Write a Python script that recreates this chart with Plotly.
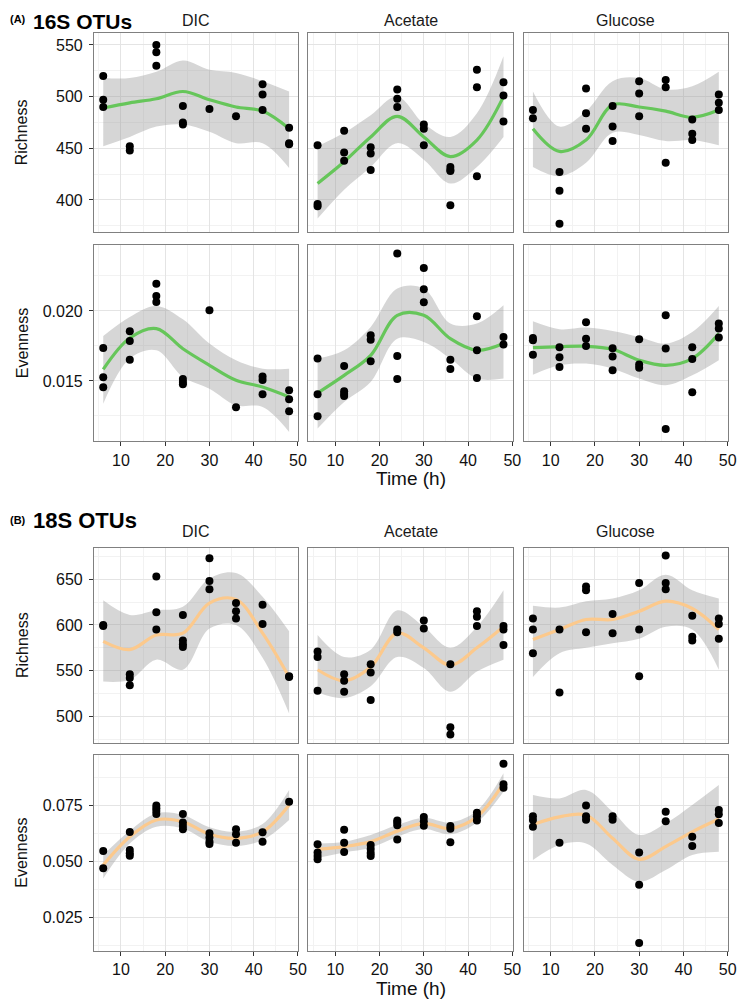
import plotly.graph_objects as go

# ---------------- data ----------------
fit_t = [6, 12, 18, 24, 30, 36, 42, 48]

# (A) 16S OTUs - Richness
a_rich_dic_t = [6, 6, 6, 12, 12, 18, 18, 18, 24, 24, 24, 30, 36, 42, 42, 42, 48, 48, 48]
a_rich_dic_v = [520, 497, 490, 452, 448, 550, 543, 530, 491, 475, 473, 488, 481, 512, 502, 487, 470, 455, 454]
a_rich_dic_fit = [489, 494, 498, 505, 497, 490, 486, 469]
a_rich_dic_up = [518, 518, 524, 535, 526, 523, 515, 505]
a_rich_dic_lo = [452, 461, 471, 473, 466, 455, 455, 431]

a_rich_ace_t = [6, 6, 6, 12, 12, 12, 18, 18, 18, 24, 24, 24, 30, 30, 30, 36, 36, 36, 36, 42, 42, 42, 48, 48, 48]
a_rich_ace_v = [453, 396, 394, 467, 446, 438, 451, 445, 429, 507, 498, 490, 473, 469, 453, 432, 429, 428, 395,
                526, 509, 423, 514, 501, 476]
a_rich_ace_fit = [416, 437, 461, 481, 461, 442, 458, 500]
a_rich_ace_up = [452, 465, 482, 500, 474, 461, 484, 539]
a_rich_ace_lo = [382, 410, 432, 455, 439, 416, 432, 461]

a_rich_glu_t = [6, 6, 12, 12, 12, 18, 18, 18, 24, 24, 24, 30, 30, 30, 36, 36, 36, 42, 42, 42, 48, 48, 48]
a_rich_glu_v = [487, 479, 427, 409, 377, 508, 484, 469, 491, 471, 457, 515, 503, 481, 516, 509, 436, 478, 464, 458,
                502, 494, 487]
a_rich_glu_fit = [469, 447, 458, 492, 490, 486, 480, 487]
a_rich_glu_up = [505, 471, 486, 515, 518, 507, 510, 524]
a_rich_glu_lo = [432, 423, 436, 465, 463, 457, 458, 453]

# (A) 16S OTUs - Evenness
a_even_dic_t = [6, 6, 6, 12, 12, 12, 18, 18, 18, 24, 24, 24, 30, 36, 42, 42, 42, 48, 48, 48]
a_even_dic_v = [0.01736, 0.01526, 0.01455, 0.01855, 0.01786, 0.01652, 0.02195, 0.02107, 0.02064, 0.01514,
                0.01493, 0.01476, 0.02005, 0.01312, 0.01531, 0.01507, 0.01405, 0.01433, 0.01369, 0.01283]
a_even_dic_fit = [0.01583, 0.01807, 0.01874, 0.0173, 0.01612, 0.01505, 0.01457, 0.01386]
a_even_dic_up = [0.01821, 0.01957, 0.02036, 0.0194, 0.01767, 0.01648, 0.01588, 0.01588]
a_even_dic_lo = [0.01338, 0.0166, 0.01719, 0.01529, 0.01445, 0.01326, 0.01314, 0.01136]

a_even_ace_t = [6, 6, 6, 12, 12, 12, 12, 18, 18, 18, 24, 24, 24, 30, 30, 30, 36, 36, 42, 42, 42, 48, 48]
a_even_ace_v = [0.0166, 0.01405, 0.01248, 0.01607, 0.01426, 0.01407, 0.01393, 0.01826, 0.01795, 0.0164,
                0.0241, 0.01679, 0.01514, 0.02307, 0.02155, 0.02062, 0.01652, 0.01586, 0.01962, 0.01719,
                0.01521, 0.01814, 0.0176]
a_even_ace_fit = [0.01414, 0.0154, 0.01683, 0.01969, 0.01969, 0.01802, 0.01719, 0.01767]
a_even_ace_up = [0.0166, 0.01719, 0.01886, 0.0216, 0.0216, 0.0191, 0.0191, 0.0204]
a_even_ace_lo = [0.0116, 0.0135, 0.01493, 0.01802, 0.01779, 0.0166, 0.01517, 0.01517]

a_even_glu_t = [6, 6, 6, 12, 12, 12, 18, 18, 18, 24, 24, 24, 30, 30, 30, 36, 36, 36, 42, 42, 42, 48, 48, 48]
a_even_glu_v = [0.01807, 0.0179, 0.01688, 0.0174, 0.01669, 0.016, 0.01919, 0.01802, 0.0175, 0.01733, 0.01674,
                0.01576, 0.01798, 0.01617, 0.01595, 0.01969, 0.01731, 0.01157, 0.0174, 0.01657, 0.01419,
                0.0191, 0.01874, 0.0181]
a_even_glu_fit = [0.01738, 0.01745, 0.01748, 0.01726, 0.01648, 0.01612, 0.0166, 0.01838]
a_even_glu_up = [0.01926, 0.0187, 0.01881, 0.01857, 0.01814, 0.01767, 0.0185, 0.02036]
a_even_glu_lo = [0.01545, 0.01612, 0.01624, 0.01588, 0.01517, 0.01469, 0.0154, 0.01648]

# (B) 18S OTUs - Richness
b_rich_dic_t = [6, 6, 12, 12, 12, 18, 18, 18, 24, 24, 24, 24, 30, 30, 30, 36, 36, 36, 42, 42, 48, 48]
b_rich_dic_v = [600, 599, 546, 542, 534, 653, 614, 595, 611, 583, 579, 576, 673, 648, 639, 624, 615, 607,
                622, 601, 544, 543]
b_rich_dic_fit = [582, 573, 589, 591, 624, 628, 591, 543]
b_rich_dic_up = [627, 611, 616, 620, 651, 657, 631, 593]
b_rich_dic_lo = [538, 540, 562, 551, 596, 600, 564, 503]

b_rich_ace_t = [6, 6, 6, 12, 12, 12, 18, 18, 18, 24, 24, 30, 30, 36, 36, 36, 42, 42, 42, 48, 48, 48]
b_rich_ace_v = [571, 565, 528, 546, 539, 527, 557, 548, 518, 595, 592, 605, 596, 557, 488, 480, 615, 609, 599,
                599, 595, 578]
b_rich_ace_fit = [551, 539, 554, 591, 575, 556, 575, 598]
b_rich_ace_up = [589, 565, 573, 616, 598, 575, 598, 638]
b_rich_ace_lo = [526, 520, 533, 565, 553, 527, 549, 562]

b_rich_glu_t = [6, 6, 6, 12, 12, 18, 18, 18, 24, 24, 30, 30, 30, 36, 36, 36, 42, 42, 42, 48, 48, 48]
b_rich_glu_v = [607, 595, 569, 595, 526, 642, 638, 592, 612, 591, 646, 595, 544, 676, 646, 639, 610, 587, 583,
                607, 601, 585]
b_rich_glu_fit = [584, 595, 606, 606, 615, 626, 618, 595]
b_rich_glu_up = [621, 619, 626, 629, 638, 655, 638, 629]
b_rich_glu_lo = [543, 569, 575, 580, 585, 598, 595, 551]

# (B) 18S OTUs - Evenness
b_even_dic_t = [6, 6, 12, 12, 12, 12, 18, 18, 18, 18, 24, 24, 24, 24, 30, 30, 30, 30, 36, 36, 36, 42, 42, 48]
b_even_dic_v = [0.0546, 0.0469, 0.0631, 0.0551, 0.0536, 0.0525, 0.0750, 0.0737, 0.0725, 0.0711, 0.0711,
                0.0674, 0.0658, 0.0643, 0.0625, 0.0607, 0.0588, 0.0577, 0.0643, 0.0621, 0.0583, 0.0630,
                0.0588, 0.0766]
b_even_dic_fit = [0.0484, 0.0610, 0.0685, 0.0677, 0.0621, 0.0603, 0.0632, 0.0752]
b_even_dic_up = [0.0528, 0.0637, 0.0714, 0.0707, 0.0652, 0.0632, 0.0667, 0.0819]
b_even_dic_lo = [0.0424, 0.0580, 0.0655, 0.0647, 0.0588, 0.0569, 0.0595, 0.0685]

b_even_ace_t = [6, 6, 6, 6, 12, 12, 12, 18, 18, 18, 18, 24, 24, 24, 24, 30, 30, 30, 36, 36, 36, 42, 42, 42,
                48, 48, 48]
b_even_ace_v = [0.0576, 0.0540, 0.0524, 0.0509, 0.0641, 0.0583, 0.0542, 0.0573, 0.0555, 0.0537, 0.0524,
                0.0683, 0.0673, 0.0661, 0.0598, 0.0698, 0.0679, 0.0659, 0.0658, 0.0646, 0.0585, 0.0717,
                0.0702, 0.0683, 0.0936, 0.0844, 0.0829]
b_even_ace_fit = [0.0554, 0.0566, 0.0588, 0.0635, 0.0670, 0.0647, 0.0699, 0.0848]
b_even_ace_up = [0.0580, 0.0588, 0.0618, 0.0662, 0.0695, 0.0674, 0.0726, 0.0893]
b_even_ace_lo = [0.0516, 0.0540, 0.0561, 0.0610, 0.0644, 0.0621, 0.0674, 0.0811]

b_even_glu_t = [6, 6, 6, 12, 18, 18, 18, 24, 24, 30, 30, 30, 36, 36, 42, 42, 48, 48, 48]
b_even_glu_v = [0.0702, 0.0685, 0.0655, 0.0583, 0.0750, 0.0701, 0.0686, 0.0701, 0.0686, 0.0540, 0.0396,
                0.0135, 0.0722, 0.0679, 0.0610, 0.0569, 0.0729, 0.0710, 0.0671]
b_even_glu_fit = [0.0665, 0.0699, 0.0707, 0.0603, 0.0509, 0.0566, 0.0632, 0.0689]
b_even_glu_up = [0.0796, 0.0781, 0.0819, 0.0722, 0.0618, 0.0670, 0.0752, 0.0841]
b_even_glu_lo = [0.0506, 0.0573, 0.0580, 0.0484, 0.0409, 0.0461, 0.0528, 0.0543]

substrates = ["DIC", "Acetate", "Glucose"]
x_ticks = [10, 20, 30, 40, 50]
rich_a_ticks = [400, 450, 500, 550]
even_a_ticks = [0.015, 0.020]
even_a_labels = ["0.015", "0.020"]
rich_b_ticks = [500, 550, 600, 650]
even_b_ticks = [0.025, 0.050, 0.075]
even_b_labels = ["0.025", "0.050", "0.075"]

# ---------------- layout geometry (page pixels) ----------------
# the page body has an 8px margin, so the figure is made 8px smaller and every
# page position is shifted by that offset
OFF = 8
W, H = 746 - OFF, 1003 - OFF
COLS = [(95, 302), (312, 519), (530, 737)]
ROWS = [(33.3, 231.7), (245.3, 441.3), (547.5, 743), (755, 950.7)]
GREEN = "#66c65a"
ORANGE = "#fcc98c"
FONT = "Liberation Sans, Arial, sans-serif"

rows = [
    dict(panels=[(a_rich_dic_t, a_rich_dic_v, a_rich_dic_fit, a_rich_dic_up, a_rich_dic_lo),
                 (a_rich_ace_t, a_rich_ace_v, a_rich_ace_fit, a_rich_ace_up, a_rich_ace_lo),
                 (a_rich_glu_t, a_rich_glu_v, a_rich_glu_fit, a_rich_glu_up, a_rich_glu_lo)],
         color=GREEN, yrange=[369.3, 561.3], ticks=rich_a_ticks, labels=[str(v) for v in rich_a_ticks],
         minor=[375, 425, 475, 525], title="Richness", bottom=False),
    dict(panels=[(a_even_dic_t, a_even_dic_v, a_even_dic_fit, a_even_dic_up, a_even_dic_lo),
                 (a_even_ace_t, a_even_ace_v, a_even_ace_fit, a_even_ace_up, a_even_ace_lo),
                 (a_even_glu_t, a_even_glu_v, a_even_glu_fit, a_even_glu_up, a_even_glu_lo)],
         color=GREEN, yrange=[0.01069, 0.02469], ticks=even_a_ticks, labels=even_a_labels,
         minor=[0.0125, 0.0175, 0.0225], title="Evenness", bottom=True),
    dict(panels=[(b_rich_dic_t, b_rich_dic_v, b_rich_dic_fit, b_rich_dic_up, b_rich_dic_lo),
                 (b_rich_ace_t, b_rich_ace_v, b_rich_ace_fit, b_rich_ace_up, b_rich_ace_lo),
                 (b_rich_glu_t, b_rich_glu_v, b_rich_glu_fit, b_rich_glu_up, b_rich_glu_lo)],
         color=ORANGE, yrange=[470.8, 684.8], ticks=rich_b_ticks, labels=[str(v) for v in rich_b_ticks],
         minor=[475, 525, 575, 625, 675], title="Richness", bottom=False),
    dict(panels=[(b_even_dic_t, b_even_dic_v, b_even_dic_fit, b_even_dic_up, b_even_dic_lo),
                 (b_even_ace_t, b_even_ace_v, b_even_ace_fit, b_even_ace_up, b_even_ace_lo),
                 (b_even_glu_t, b_even_glu_v, b_even_glu_fit, b_even_glu_up, b_even_glu_lo)],
         color=ORANGE, yrange=[0.0101, 0.0975], ticks=even_b_ticks, labels=even_b_labels,
         minor=[0.0125, 0.0375, 0.0625, 0.0875], title="Evenness", bottom=True),
]


def px_x(px):
    return (px - OFF) / W


def px_y(py):
    return 1 - (py - OFF) / H


fig = go.Figure()
layout = {}
annotations = []

k = 0
for r, row in enumerate(rows):
    y0, y1 = ROWS[r]
    for c, (t, v, fit, up, lo) in enumerate(row["panels"]):
        k += 1
        xa = "x" if k == 1 else f"x{k}"
        ya = "y" if k == 1 else f"y{k}"

        # confidence ribbon
        fig.add_trace(go.Scatter(x=fit_t, y=up, xaxis=xa, yaxis=ya, mode="lines",
                                 line=dict(width=0, shape="spline"), showlegend=False, hoverinfo="skip"))
        fig.add_trace(go.Scatter(x=fit_t, y=lo, xaxis=xa, yaxis=ya, mode="lines",
                                 line=dict(width=0, shape="spline"), fill="tonexty",
                                 fillcolor="rgba(153,153,153,0.4)", showlegend=False, hoverinfo="skip"))
        # smooth fit
        fig.add_trace(go.Scatter(x=fit_t, y=fit, xaxis=xa, yaxis=ya, mode="lines",
                                 line=dict(color=row["color"], width=3.2, shape="spline"), showlegend=False))
        # observations
        fig.add_trace(go.Scatter(x=t, y=v, xaxis=xa, yaxis=ya, mode="markers",
                                 marker=dict(color="black", size=8), showlegend=False))

        layout["xaxis" if k == 1 else f"xaxis{k}"] = dict(
            domain=[px_x(COLS[c][0]), px_x(COLS[c][1])], anchor=ya, range=[3.9, 50.1],
            tickvals=x_ticks, showticklabels=row["bottom"], ticks="outside" if row["bottom"] else "",
            ticklen=4, tickcolor="#333333", showgrid=True, gridcolor="#e4e4e4", gridwidth=1,
            minor=dict(tickvals=[5, 15, 25, 35, 45], showgrid=True, gridcolor="#f2f2f2", gridwidth=0.8),
            showline=True, mirror=True, linecolor="#808080", linewidth=1, zeroline=False,
            tickfont=dict(size=16, color="#111111", family=FONT))
        layout["yaxis" if k == 1 else f"yaxis{k}"] = dict(
            domain=[px_y(y1), px_y(y0)], anchor=xa, range=row["yrange"],
            tickvals=row["ticks"], ticktext=row["labels"], showticklabels=(c == 0),
            ticks="outside" if c == 0 else "", ticklen=4, tickcolor="#333333", ticklabelstandoff=3,
            showgrid=True, gridcolor="#e4e4e4", gridwidth=1,
            minor=dict(tickvals=row["minor"], showgrid=True, gridcolor="#f2f2f2", gridwidth=0.8),
            showline=True, mirror=True, linecolor="#808080", linewidth=1, zeroline=False,
            tickfont=dict(size=16, color="#111111", family=FONT))

    # y axis title of the row
    annotations.append(dict(text=row["title"], x=px_x(22), y=px_y((y0 + y1) / 2), xref="paper", yref="paper",
                            showarrow=False, textangle=-90, xanchor="center", yanchor="middle",
                            font=dict(size=16, color="#111111", family=FONT)))

# facet strip labels
for strip_y in (20.5, 531):
    for c, name in enumerate(substrates):
        annotations.append(dict(text=name, x=px_x((COLS[c][0] + COLS[c][1]) / 2), y=px_y(strip_y),
                                xref="paper", yref="paper", showarrow=False, xanchor="center",
                                yanchor="middle", font=dict(size=16, color="#1a1a1a", family=FONT)))

# x axis titles
for title_y in (478, 988):
    annotations.append(dict(text="Time (h)", x=px_x((COLS[1][0] + COLS[1][1]) / 2), y=px_y(title_y),
                            xref="paper", yref="paper", showarrow=False, xanchor="center", yanchor="middle",
                            font=dict(size=19, color="#111111", family=FONT)))

# section titles ("A" sits against the top edge of the figure)
annotations.append(dict(text="<b>(A)</b>", x=0, y=px_y(19), xref="paper", yref="paper",
                        showarrow=False, xanchor="left", yanchor="middle",
                        font=dict(size=11, color="black", family=FONT)))
annotations.append(dict(text="<b>16S OTUs</b>", x=px_x(31), y=1, xref="paper", yref="paper",
                        showarrow=False, xanchor="left", yanchor="top",
                        font=dict(size=21, color="black", family=FONT)))
annotations.append(dict(text="<b>(B)</b>", x=0, y=px_y(520), xref="paper", yref="paper",
                        showarrow=False, xanchor="left", yanchor="middle",
                        font=dict(size=11, color="black", family=FONT)))
annotations.append(dict(text="<b>18S OTUs</b>", x=px_x(31), y=px_y(520), xref="paper", yref="paper",
                        showarrow=False, xanchor="left", yanchor="middle",
                        font=dict(size=22, color="black", family=FONT)))

fig.update_layout(layout)
fig.update_layout(width=W, height=H, margin=dict(l=0, r=0, t=0, b=0),
                  paper_bgcolor="white", plot_bgcolor="white",
                  annotations=annotations, showlegend=False)

fig.write_html("out.html")
